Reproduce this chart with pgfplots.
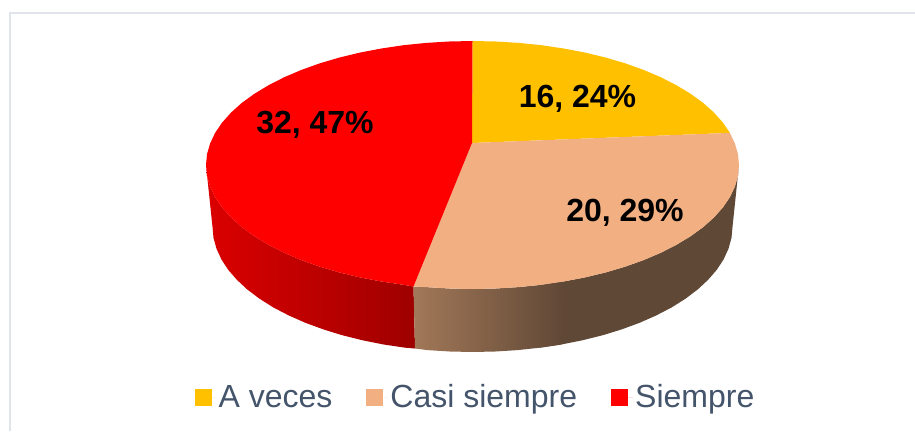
\documentclass[border=0pt]{standalone}
\usepackage{pgfplots}
\pgfplotsset{compat=1.18}
\usepackage{fontspec}
\setmainfont{Liberation Sans}
\definecolor{yel}{HTML}{FFC000}
\definecolor{pea}{HTML}{F2AF82}
\definecolor{rd}{HTML}{FF0000}
\definecolor{txt}{HTML}{44546A}
\definecolor{bord}{HTML}{E1E5EB}
\begin{document}
\begin{tikzpicture}
\begin{axis}[
  scale only axis, width=915pt, height=431pt,
  xmin=0, xmax=915, ymin=0, ymax=431, y dir=reverse,
  axis lines=none, clip=true,
  legend columns=3,
  legend style={at={(axis cs:475.5,397)}, anchor=center, draw=none, fill=none,
    font=\fontsize{32}{36}\selectfont\color{txt},
    /tikz/every even column/.append style={column sep=32pt}},
  legend cell align=left,
  legend image code/.code={\path (0pt,0pt) -- (22pt,0pt);\fill[#1] (0pt,-9pt) rectangle (17pt,8pt);},
]
\path (rel axis cs:0,0) rectangle (rel axis cs:1,1);
% frame
\addplot[forget plot, bord, line width=2pt] coordinates {(10,431) (10,13) (915,13)};
% red side
\addplot[forget plot, draw=none, left color=rd!86!black, right color=rd!62!black] coordinates {
(206,165) (207,175.8) (210.1,186.5) (215.1,197.1) (222.1,207.4) (231,217.4) (241.7,227) (254.2,236.1) (268.4,244.7) (284.1,252.7) (301.2,260) (319.6,266.6) (339.2,272.4) (359.9,277.4) (381.4,281.5) (403.5,284.8) (413.5,286.5)
(415,348.5) (405.2,347.7) (383.6,344.5) (362.6,340.3) (342.5,335.3) (323.4,329.4) (305.4,322.8) (288.7,315.4) (273.3,307.4) (259.5,298.7) (247.3,289.5) (236.9,279.8) (228.2,269.8) (221.4,259.4) (216.5,248.7) (213.5,237.9) (212.5,227)
} -- cycle;
% peach side, dark part (runs on under the graded part)
\addplot[forget plot, draw=none, fill={rgb,255:red,96;green,72;blue,54}] coordinates {
(541.5,284.8) (563.6,281.5) (585.1,277.4) (605.8,272.4) (625.4,266.6) (643.8,260) (660.9,252.7) (676.6,244.7) (690.8,236.1) (703.3,227) (714,217.4) (722.9,207.4) (729.9,197.1) (734.9,186.5) (738,175.8) (739,165)
(732.5,227) (731.5,237.9) (728.5,248.7) (723.6,259.4) (716.8,269.8) (708.1,279.8) (697.7,289.5) (685.5,298.7) (671.7,307.4) (656.3,315.4) (639.6,322.8) (621.6,329.4) (602.5,335.3) (582.4,340.3) (561.4,344.5) (539.8,347.7)
} -- cycle;
% peach side, graded part
\addplot[forget plot, draw=none, left color={rgb,255:red,162;green,120;blue,88}, right color={rgb,255:red,96;green,72;blue,54}] coordinates {
(413.5,286.5) (426.2,287.1) (449.3,288.5) (472.5,289) (495.7,288.5) (518.8,287.1) (541.5,284.8) (563.6,281.5)
(561.4,344.5) (539.8,347.7) (517.6,350.1) (495.2,351.5) (472.5,352) (449.8,351.5) (427.4,350.1) (415,348.5)
} -- cycle;
% yellow: 16, 24%
\addplot[draw=none, fill=yel] coordinates {
(472,143) (472.5,41) (495.7,41.5) (518.8,42.9) (541.5,45.2) (563.6,48.5) (585.1,52.6) (605.8,57.6) (625.4,63.4) (643.8,70) (660.9,77.3) (676.6,85.3) (690.8,93.9) (703.3,103) (714,112.6) (722.9,122.6) (729.9,132.9)
} -- cycle;
\addlegendentry{A veces}
% peach: 20, 29%
\addplot[draw=none, fill=pea] coordinates {
(472,143) (729.9,132.9) (734.9,143.5) (738,154.2) (739,165) (738,175.8) (734.9,186.5) (729.9,197.1) (722.9,207.4) (714,217.4) (703.3,227) (690.8,236.1) (676.6,244.7) (660.9,252.7) (643.8,260) (625.4,266.6) (605.8,272.4) (585.1,277.4) (563.6,281.5) (541.5,284.8) (518.8,287.1) (495.7,288.5) (472.5,289) (449.3,288.5) (426.2,287.1) (413.5,286.5)
} -- cycle;
\addlegendentry{Casi siempre}
% red: 32, 47%
\addplot[draw=none, fill=rd] coordinates {
(472,143) (413.5,286.5) (403.5,284.8) (381.4,281.5) (359.9,277.4) (339.2,272.4) (319.6,266.6) (301.2,260) (284.1,252.7) (268.4,244.7) (254.2,236.1) (241.7,227) (231,217.4) (222.1,207.4) (215.1,197.1) (210.1,186.5) (207,175.8) (206,165) (207,154.2) (210.1,143.5) (215.1,132.9) (222.1,122.6) (231,112.6) (241.7,103) (254.2,93.9) (268.4,85.3) (284.1,77.3) (301.2,70) (319.6,63.4) (339.2,57.6) (359.9,52.6) (381.4,48.5) (403.5,45.2) (426.2,42.9) (449.3,41.5) (472.5,41)
} -- cycle;
\addlegendentry{Siempre}
\node[font=\fontsize{32}{36}\selectfont\bfseries] at (axis cs:577.5,99) {16, 24\%};
\node[font=\fontsize{32}{36}\selectfont\bfseries] at (axis cs:625,213) {20, 29\%};
\node[font=\fontsize{32}{36}\selectfont\bfseries] at (axis cs:315,125) {32, 47\%};
\end{axis}
\end{tikzpicture}
\end{document}
